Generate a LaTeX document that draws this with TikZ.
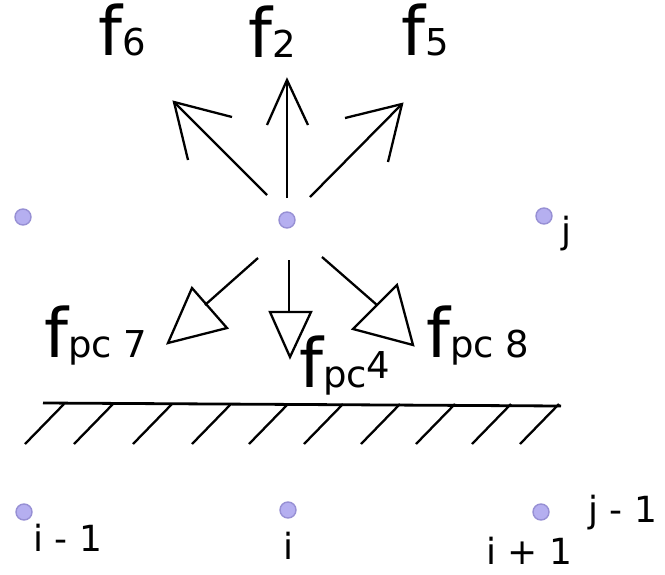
\documentclass[tikz,border=0pt]{standalone}
\usepackage{fontspec}
\setmainfont{DejaVu Sans}
\definecolor{dotfill}{HTML}{B5AFF0}
\definecolor{dotdraw}{HTML}{9790D4}
\begin{document}
\begin{tikzpicture}[x=1pt,y=-1pt,
  lattice/.style={circle,fill=dotfill,draw=dotdraw,line width=1.4pt,minimum size=16pt,inner sep=0pt},
  vec/.style={line width=2.3pt,line join=miter},
  wall/.style={line width=2.8pt},
  hatch/.style={line width=2.3pt},
  big/.style={anchor=base west,inner sep=0pt,font=\fontsize{68}{70}\selectfont},
  idx/.style={anchor=base west,inner sep=0pt,text depth=0pt,font=\fontsize{36}{40}\selectfont}]
\useasboundingbox (0,0) rectangle (665,574);
% lattice nodes
\node[lattice] (n1) at (23,217) {};
\node[lattice] (n2) at (287,220) {};
\node[lattice] (n3) at (544,216) {};
\node[lattice] (n4) at (24,512) {};
\node[lattice] (n5) at (288,510) {};
\node[lattice] (n6) at (541,512) {};
% upward vectors
\coordinate (u2s) at (287,198); \coordinate (u2t) at (287,80);
\coordinate (u6s) at (267,195); \coordinate (u6t) at (174,102);
\coordinate (u5s) at (310,197); \coordinate (u5t) at (402,104);
\draw[vec] (u2s) -- (u2t);
\draw[vec] (267,125) -- (u2t) -- (308,125);
\draw[vec] (u6s) -- (u6t);
\draw[vec] (232,117) -- (u6t) -- (188,160);
\draw[vec] (u5s) -- (u5t);
\draw[vec] (345,118) -- (u5t) -- (388,162);
% downward vectors
\coordinate (d7s) at (258,258); \coordinate (d7e) at (205,305);
\coordinate (d4s) at (289,260); \coordinate (d4e) at (289,312);
\coordinate (d8s) at (322,257); \coordinate (d8e) at (377,305);
\draw[vec] (d7s) -- (d7e);
\draw[vec] (192,288) -- (227,328) -- (168,343) -- cycle;
\draw[vec] (d4s) -- (d4e);
\draw[vec] (270,312) -- (311,312) -- (290,357) -- cycle;
\draw[vec] (d8s) -- (d8e);
\draw[vec] (397,285) -- (353,329) -- (413,345) -- cycle;
% wall
\coordinate (wa) at (43,403); \coordinate (wb) at (561,406);
\draw[wall] (wa) -- (wb);
\foreach \x in {64,113,172,231,288,343,400,455,511,559}
  \draw[hatch] (\x,404) -- ++(-39,40);
% labels
\node[big] (l6) at (98,55) {f\fontsize{37}{40}\selectfont 6};
\node[big] (l2) at (248,57) {f\fontsize{37}{40}\selectfont 2};
\node[big] (l5) at (401,55) {f\fontsize{37}{40}\selectfont 5};
\node[big] (l7) at (44,357) {f\fontsize{37}{40}\selectfont pc 7};
\node[big] (l8) at (426,357) {f\fontsize{37}{40}\selectfont pc 8};
\node[big] (l4) at (299,387) {f\fontsize{37}{40}\selectfont pc\raisebox{9pt}{4}};
\node[idx] (tj) at (561,243) {j};
\node[idx] (ti1) at (33,551) {i - 1};
\node[idx] (ti) at (283,559) {i};
\node[idx] (tip1) at (486,564) {i + 1};
\node[idx] (tj1) at (588,522) {j - 1};
\end{tikzpicture}
\end{document}
